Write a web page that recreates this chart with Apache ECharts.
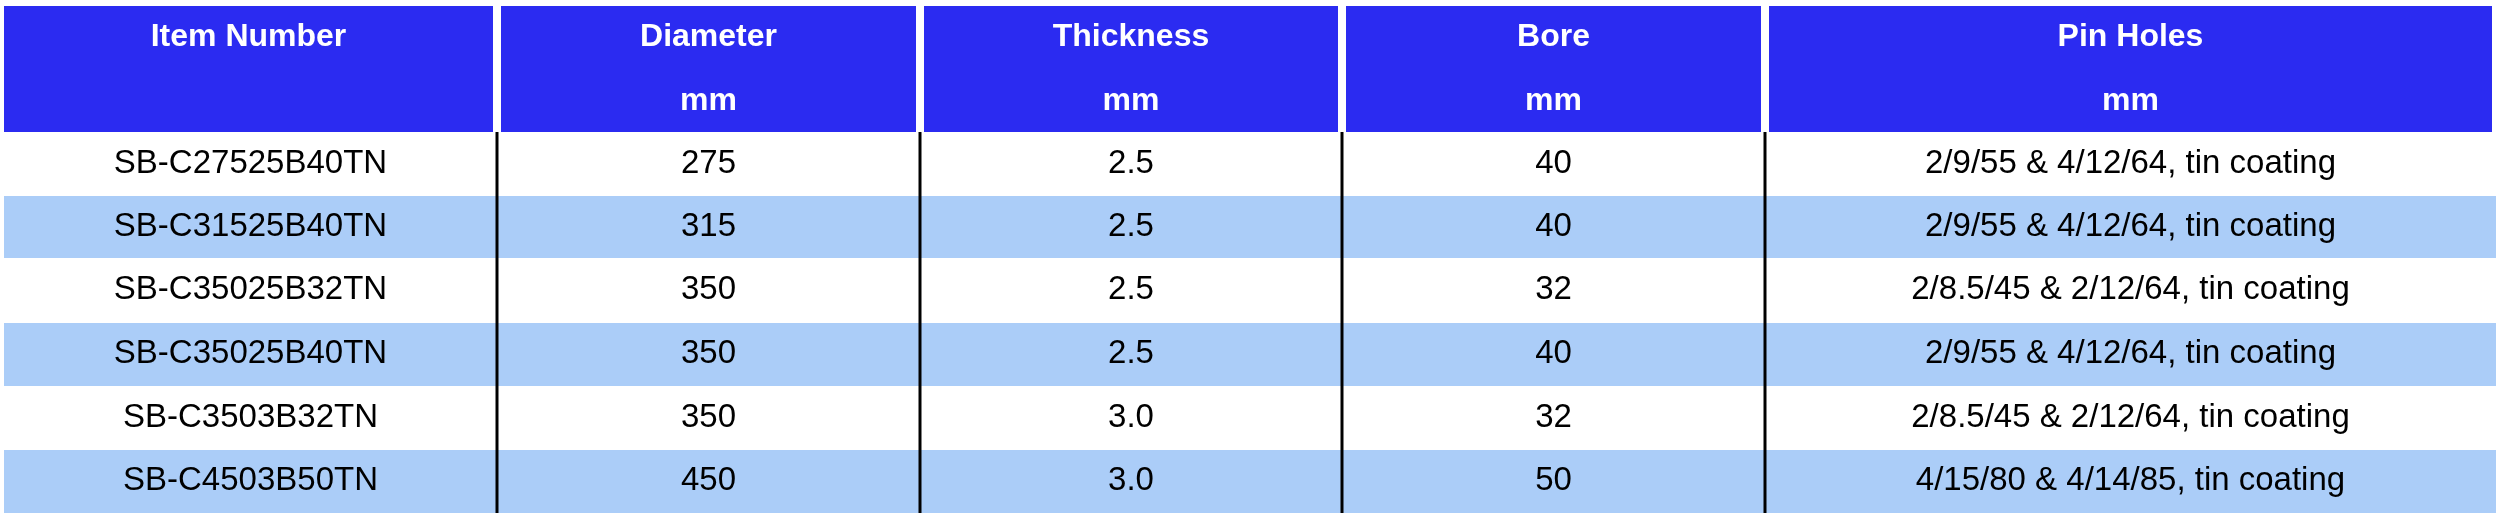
<!DOCTYPE html>
<html>
<head>
<meta charset="utf-8">
<script src="https://cdn.jsdelivr.net/npm/echarts@6/dist/echarts.min.js"></script>
<style>
  html, body { margin: 0; padding: 0; background: #fff; }
  #chart { width: 2500px; height: 518px; }
</style>
</head>
<body>
<div id="chart"></div>
<script>
var headers = ['Item Number\n ', 'Diameter\nmm', 'Thickness\nmm', 'Bore\nmm', 'Pin Holes\nmm'];
var items = ['SB-C27525B40TN', 'SB-C31525B40TN', 'SB-C35025B32TN', 'SB-C35025B40TN', 'SB-C3503B32TN', 'SB-C4503B50TN'];
var diameters = ['275', '315', '350', '350', '350', '450'];
var thickness = ['2.5', '2.5', '2.5', '2.5', '3.0', '3.0'];
var bores = ['40', '40', '32', '40', '32', '50'];
var pinHoles = [
  '2/9/55 & 4/12/64, tin coating',
  '2/9/55 & 4/12/64, tin coating',
  '2/8.5/45 & 2/12/64, tin coating',
  '2/9/55 & 4/12/64, tin coating',
  '2/8.5/45 & 2/12/64, tin coating',
  '4/15/80 & 4/14/85, tin coating'
];

(function() {
  // layout (pixels in the 2500x518 frame)
  var colEdges = [4, 497, 920, 1342, 1765, 2496];
  var headTop = 6, headBottom = 132, rowBottoms = [195, 258, 322, 386, 449, 513];
  var blue = '#2b2bf1', stripe = '#abcdf8';

  var chart = echarts.init(document.getElementById('chart'), null, { renderer: 'canvas' });

  var columns = [items, diameters, thickness, bores, pinHoles];

  function cellText(x0, x1, y0, y1, text, bold, color) {
    return {
      type: 'text',
      style: {
        x: (x0 + x1) / 2, y: (y0 + y1) / 2,
        text: text, align: 'center', verticalAlign: 'middle',
        fill: color, lineHeight: 64,
        font: (bold ? 'bold 32px' : '33px') + ' "Liberation Sans", Arial, sans-serif'
      }
    };
  }

  chart.setOption({
    animation: false,
    grid: { left: 0, right: 0, top: 0, bottom: 0 },
    xAxis: { type: 'value', min: 0, max: 2500, show: false },
    yAxis: { type: 'value', min: 0, max: 518, inverse: true, show: false },
    series: [{
      type: 'custom',
      data: [-1].concat(items.map(function(it, i) { return i; })),
      renderItem: function(params, api) {
        var idx = params.dataIndex - 1;
        var children = [];
        var p0, p1, c;
        if (idx < 0) {
          for (c = 0; c < headers.length; c++) {
            p0 = api.coord([colEdges[c] + (c ? 4 : 0), headTop]);
            p1 = api.coord([colEdges[c + 1] - 4, headBottom]);
            children.push({ type: 'rect', shape: { x: p0[0], y: p0[1], width: p1[0] - p0[0], height: p1[1] - p0[1] }, style: { fill: blue } });
            children.push(cellText(p0[0], p1[0], p0[1], p1[1], headers[c], true, '#fff'));
          }
          return { type: 'group', children: children };
        }
        var top = idx === 0 ? headBottom : rowBottoms[idx - 1];
        var bot = rowBottoms[idx];
        p0 = api.coord([colEdges[0], top]);
        p1 = api.coord([colEdges[5], bot]);
        if (idx % 2 === 1) {
          children.push({ type: 'rect', shape: { x: p0[0], y: p0[1] + 1, width: p1[0] - p0[0], height: p1[1] - p0[1] - 1 }, style: { fill: stripe } });
        }
        for (c = 0; c < 5; c++) {
          var a = api.coord([colEdges[c], top]), b = api.coord([colEdges[c + 1], bot]);
          children.push(cellText(a[0], b[0], a[1], b[1], columns[c][idx], false, '#000'));
          if (c > 0) {
            children.push({ type: 'line', shape: { x1: a[0], y1: a[1], x2: a[0], y2: b[1] }, style: { stroke: '#000', lineWidth: 3 } });
          }
        }
        return { type: 'group', children: children };
      }
    }]
  });

  window.addEventListener('resize', function() { chart.resize(); });
})();
</script>
</body>
</html>
